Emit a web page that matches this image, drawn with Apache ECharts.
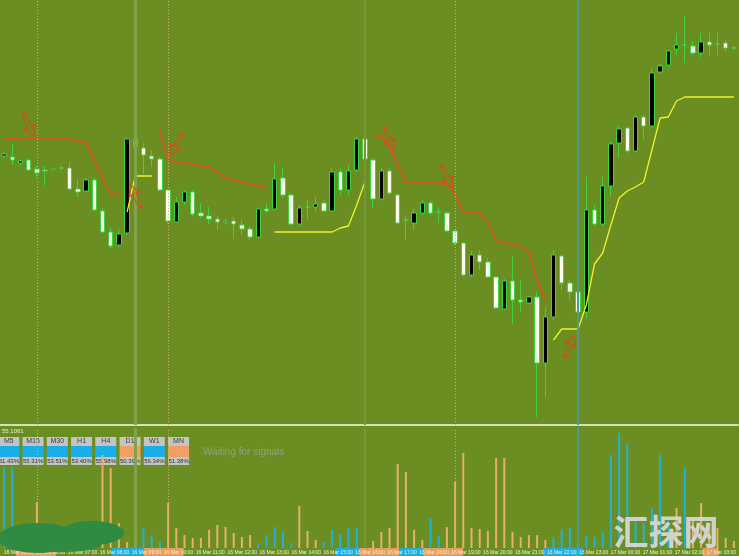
<!DOCTYPE html>
<html><head><meta charset="utf-8">
<script src="https://cdn.jsdelivr.net/npm/echarts@6/dist/echarts.min.js"></script>
<style>html,body{margin:0;padding:0;background:#6b8e23;overflow:hidden}#c{width:739px;height:556px}</style>
</head><body><div id="c"></div><script>
// ---- price data (points), one candle per slot ----
const openP  = [274,273,267,270,261,260,260,262,262,241,239,250,219,198,185,197,291,282,274,271,240,208,228,238,217,214,211,208,209,205,201,193,221,221,252,235,206,223,223,227,219,258,240,260,291,270,231,259,235,210,207,217,227,218,217,199,187,155,175,168,153,121,149,130,127,133,67,113,174,147,138,118,220,206,244,287,302,279,313,304,358,365,381,385,384,377,388,386,387,382];
const closeP = [276,270,269,260,257,259,261,262,241,238,250,220,198,184,196,291,283,275,271,240,209,228,238,216,214,211,208,209,206,201,193,221,219,251,235,206,222,223,226,219,258,240,259,291,271,231,259,237,207,210,217,227,217,218,199,187,155,175,168,153,122,149,130,128,133,67,113,175,147,138,118,220,206,244,286,301,279,313,304,357,364,379,385,385,377,388,385,386,382,382];
const lowP   = [272,265,265,259,253,245,259,260,240,233,238,219,196,182,183,195,280,256,263,239,207,207,225,214,212,206,200,206,191,195,190,192,217,220,232,205,204,210,218,218,218,235,235,258,268,222,229,235,206,190,200,215,215,207,198,185,154,153,160,152,121,120,106,118,126,13,33,110,140,130,112,112,204,204,233,272,277,278,290,302,356,363,375,367,375,373,375,375,378,380];
const highP  = [278,286,270,272,264,264,262,264,268,251,252,252,222,202,201,292,317,287,280,273,241,233,240,240,227,223,214,211,213,210,204,223,227,267,262,237,225,230,233,230,262,262,265,293,293,272,262,262,237,215,222,230,229,222,219,200,188,179,180,172,154,151,174,150,134,138,123,180,176,150,140,253,225,253,288,304,304,315,315,362,366,380,397,414,388,397,397,397,390,384];
// trailing stop lines (null = not drawn)
const n = null;
const stopDown = [292,292,292,292,292,291,291,291,291,289,287,270,252,237,235,n,n,n,n,300,270,268,267,266,264,263,258,252,250,248,246,244,243,n,n,n,n,n,n,n,n,n,n,n,n,295,294,284,265,248,248,248,248,247,246,235,218,217,217,208,189,187,186,184,178,150,130,n,n,n,n,n,n,n,n,n,n,n,n,n,n,n,n,n,n,n,n,n,n,n];
const stopUp   = [n,n,n,n,n,n,n,n,n,n,n,n,n,n,n,218,254,254,254,n,n,n,n,n,n,n,n,n,n,n,n,n,n,198,198,198,198,198,198,198,198,202,204,225,248,n,n,n,n,n,n,n,n,n,n,n,n,n,n,n,n,n,n,n,n,n,n,90,101,101,101,125,166,177,205,232,239,243,248,280,312,313,329,333,333,333,333,333,333,333];
// signal arrows
const sigIdx   = [3,16,21,47,54,69];
const sigLevel = [305,234,285,291,253,84];
const sigDir   = ['down','up','down','down','down','up'];
// lower histogram
const histVal = [81,81,20,15,46,18,12,8,10,10,10,10,93,80,25,6,60,20,13,6,45,20,13,10,10,18,23,21,15,11,13,5,13,21,16,5,42,17,8,6,18,14,20,20,61,7,16,20,84,76,18,8,30,12,21,66,95,20,19,17,90,90,16,11,13,13,8,11,19,20,78,12,11,16,93,115,105,30,25,40,93,30,40,81,30,45,25,20,10,7];
const histDir = 'bbbbooooooooooooBBBBoooooooooooBBBBBoooBBBBBBoooooooBBoooooooooooooBBBBBBBBBBBBBBBoBoooooo'.toLowerCase().split('');
const stripDir = '--ooooo-------bbbbooooo-------------------bbbooooobbbooooo----------bbbbb---------------oo'.split('');
const tickLabels = ['16 Mar 05:00','16 Mar 06:00','16 Mar 07:00','16 Mar 08:00','16 Mar 09:00','16 Mar 10:00','16 Mar 11:00','16 Mar 12:00','16 Mar 13:00','16 Mar 14:00','16 Mar 15:00','16 Mar 16:00','16 Mar 17:00','16 Mar 18:00','16 Mar 19:00','16 Mar 20:00','16 Mar 21:00','16 Mar 22:00','16 Mar 23:00','17 Mar 00:00','17 Mar 01:00','17 Mar 02:00','17 Mar 03:00'];
// separators
const vIdx  = [4,16,20,44,55,70];
const vKind = ['dot','light','dot','faint','dot','teal'];
// timeframe panel
const tfLabels = ['M5','M15','M30','H1','H4','D1','W1','MN'];
const tfPct    = ['51.43%','55.31%','53.51%','53.40%','55.98%','50.39%','56.34%','51.38%'];
const tfDir    = ['b','b','b','b','b','o','b','o'];

const BLUE = '#1db3d8', ORANGE = '#e8ae6a';
const cats = openP.map((_, i) => String(i));
const vStyles = {
  dot:   {color:'#d9b072', width:1, type:[1,2]},
  light: {color:'#7fa449', width:3, type:'solid'},
  faint: {color:'#769838', width:2, type:'solid'},
  teal:  {color:'#4f9c8c', width:2, type:'solid'}
};
const vLineData = vIdx.map((ix, k) => ({xAxis: ix, lineStyle: vStyles[vKind[k]]}));

const chart = echarts.init(document.getElementById('c'), null, {renderer:'canvas'});

const graphics = [];
graphics.push({type:'text', left:2, top:428, style:{text:'55.1061', fill:'#e8f0d8', font:'6px "Liberation Sans"'}});
tfLabels.forEach((t, k) => {
  const cx = 8.8 + k * 24.25, x = cx - 10.5;
  graphics.push({type:'rect', shape:{x:x, y:437, width:21, height:9}, style:{fill:'#c4c4c4'}});
  graphics.push({type:'rect', shape:{x:x, y:446, width:21, height:11}, style:{fill: tfDir[k]==='b' ? '#1aaee8' : '#f2a062'}});
  graphics.push({type:'rect', shape:{x:x, y:457, width:21, height:8}, style:{fill:'#c4c4c4'}});
  graphics.push({type:'text', x:cx, y:441.5, style:{text:t, fill:'#3a3a3a', font:'7px "Liberation Sans"', textAlign:'center', textVerticalAlign:'middle'}});
  graphics.push({type:'text', x:cx, y:461.3, style:{text:tfPct[k], fill:'#303030', font:'6px "Liberation Sans"', textAlign:'center', textVerticalAlign:'middle'}});
});
graphics.push({type:'text', x:203, y:452, style:{text:'Waiting for signals', fill:'#93a27a', font:'10px "Liberation Sans"', textVerticalAlign:'middle'}});
graphics.push({type:'ellipse', shape:{cx:38, cy:538, rx:40, ry:15}, style:{fill:'#2f8a42'}, z:50});
graphics.push({type:'ellipse', shape:{cx:92, cy:533, rx:32, ry:12}, style:{fill:'#2f8a42'}, z:50});
graphics.push({type:'ellipse', shape:{cx:62, cy:544, rx:40, ry:8}, style:{fill:'#2f8a42'}, z:50});
graphics.push({type:'text', x:666, y:532, z:60, style:{text:'汇探网', fill:'rgba(214,214,214,0.95)', font:'bold 35px "Noto Sans CJK SC"', textAlign:'center', textVerticalAlign:'middle'}});

const arrowPath = 'path://M4,0 L8,0 L8,13 L12,13 L6,22 L0,13 L4,13 Z';
const arrowRot = [25, 205, -25, 22, 25, 155];

const option = {
  animation:false,
  backgroundColor:'#6b8e23',
  grid:[
    {left:-2, right:1, top:0, height:425},
    {left:-2, right:1, top:428, height:120},
    {left:-2, right:1, top:548, height:8}
  ],
  xAxis:[
    {type:'category', gridIndex:0, data:cats, boundaryGap:true,
     axisLine:{show:true, lineStyle:{color:'#d3e2b5', width:2}}, axisTick:{show:false}, axisLabel:{show:false}, splitLine:{show:false}},
    {type:'category', gridIndex:1, data:cats, boundaryGap:true, show:false},
    {type:'category', gridIndex:2, data:cats, boundaryGap:true, z:10,
     axisLine:{show:false}, axisTick:{show:false}, splitLine:{show:false},
     axisLabel:{show:true, inside:true, interval:0, margin:1, fontSize:5, color:'#eef0e0', align:'left', fontFamily:'Liberation Sans',
       formatter:(v, i) => (i % 4 === 0 ? tickLabels[i/4] : '')}}
  ],
  yAxis:[
    {type:'value', gridIndex:0, min:5, max:430, show:false},
    {type:'value', gridIndex:1, min:0, max:120, show:false},
    {type:'value', gridIndex:2, min:0, max:1, show:false}
  ],
  series:[
    {type:'line', xAxisIndex:0, yAxisIndex:0, data:[], z:1, silent:true,
     markLine:{silent:true, symbol:['none','none'], label:{show:false}, data:vLineData}},
    {type:'line', xAxisIndex:1, yAxisIndex:1, data:[], z:1, silent:true,
     markLine:{silent:true, symbol:['none','none'], label:{show:false}, data:vLineData}},
    {type:'candlestick', xAxisIndex:0, yAxisIndex:0, barWidth:5, z:3,
     data: openP.map((o, i) => [o, closeP[i], lowP[i], highP[i]]),
     itemStyle:{color:'#000000', color0:'#fafff2', borderColor:'#3fd43f', borderColor0:'#3fd43f', borderColorDoji:'#3fd43f', borderWidth:1}},
    {type:'line', xAxisIndex:0, yAxisIndex:0, data:stopDown, symbol:'none', connectNulls:false, z:4,
     lineStyle:{color:'#cf5a24', width:2}},
    {type:'line', xAxisIndex:0, yAxisIndex:0, data:stopUp, symbol:'none', connectNulls:false, z:4,
     lineStyle:{color:'#f2f224', width:1.3}},
    {type:'scatter', xAxisIndex:0, yAxisIndex:0, z:5, symbol:arrowPath, symbolSize:[11,24],
     data: sigIdx.map((ix, k) => ({value:[ix, sigLevel[k]], symbolRotate: arrowRot[k]})),
     itemStyle:{color:'rgba(0,0,0,0)', borderColor:'#e2461c', borderWidth:1.6}},
    {type:'bar', xAxisIndex:1, yAxisIndex:1, barWidth:2, z:3,
     data: histVal.map((v, i) => ({value:v, itemStyle:{color: histDir[i]==='b' ? BLUE : ORANGE}}))},
    {type:'bar', xAxisIndex:2, yAxisIndex:2, barWidth:'100%', z:2,
     data: stripDir.map(c => c==='-' ? null : {value:1, itemStyle:{color: c==='b' ? '#1eaee0' : '#e8a060'}})}
  ],
  graphic: graphics
};
chart.setOption(option);
</script></body></html>
